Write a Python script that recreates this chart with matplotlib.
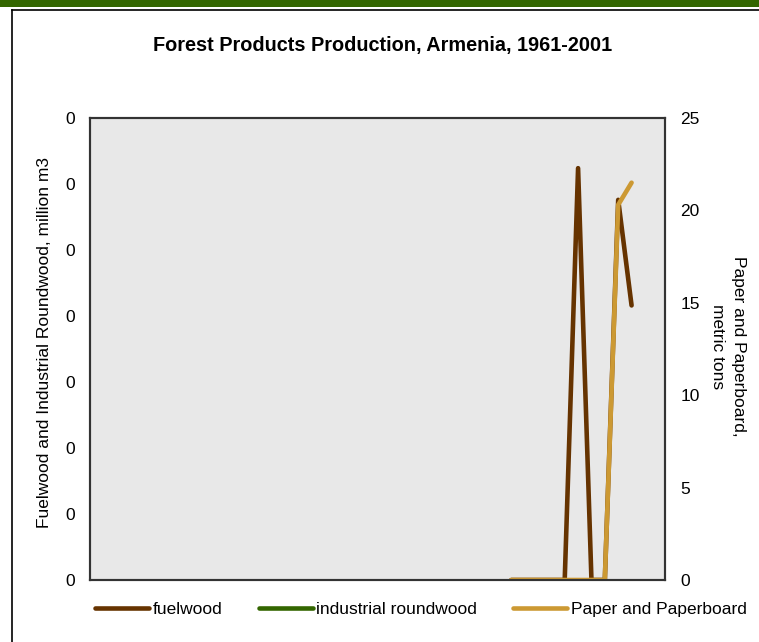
import matplotlib
matplotlib.use("Agg")
import matplotlib.pyplot as plt
from matplotlib.patches import Rectangle
from matplotlib.ticker import MultipleLocator, FormatStrFormatter
import numpy as np

plt.rcParams['font.family'] = ['Liberation Sans', 'DejaVu Sans']

# Category axis: years 1961-2003
categories = list(range(1961, 2004))
# Data years available
data_years = [1992, 1993, 1994, 1995, 1996, 1997, 1998, 1999, 2000, 2001]
fuelwood = [0, 0, 0, 0, 0, 0.00312, 0, 0, 0.00288, 0.00208]          # million m3
industrial_roundwood = [None] * 10                                     # million m3 (no data)
paper = [0, 0, 0, 0, 0, 0, 0, 0, 20.3, 21.5]                          # metric tons

x = [categories.index(y) for y in data_years]
ind_vals = [np.nan if v is None else v for v in industrial_roundwood]

W, H = 759, 642
fig = plt.figure(figsize=(W / 100, H / 100), dpi=100)

# top green bar and frame
fig.patches.append(Rectangle((0, 1 - 7 / H), 1, 7 / H, transform=fig.transFigure,
                             facecolor='#336600', edgecolor='none'))
fig.lines.append(plt.Line2D([12 / W, 12 / W], [0, 1 - 10 / H], transform=fig.transFigure,
                            color='black', lw=1.2))
fig.lines.append(plt.Line2D([12 / W, 1], [1 - 10 / H, 1 - 10 / H], transform=fig.transFigure,
                            color='black', lw=1.2))

ax = fig.add_axes([90 / W, (H - 580) / H, 575 / W, 462 / H])
ax.set_facecolor('#E8E8E8')
ax2 = ax.twinx()

c_fuel = '#663300'
c_ind = '#336600'
c_paper = '#CC9933'

lw = 3.3
l1, = ax.plot(x, fuelwood, color=c_fuel, lw=lw, solid_capstyle='round', solid_joinstyle='round',
              label='fuelwood')
l2, = ax.plot(x, ind_vals, color=c_ind, lw=lw, solid_capstyle='round',
              solid_joinstyle='round', label='industrial roundwood', zorder=1)
l3, = ax2.plot(x, paper, color=c_paper, lw=lw, solid_capstyle='round', solid_joinstyle='round',
               label='Paper and Paperboard')

ax.set_xlim(-0.5, len(categories) - 0.5)
ax.set_ylim(0, 0.0035)
ax.yaxis.set_major_locator(MultipleLocator(0.0005))
ax.yaxis.set_major_formatter(FormatStrFormatter('%.0f'))
ax2.set_ylim(0, 25)
ax2.yaxis.set_major_locator(MultipleLocator(5))

ax.set_xticks([])
for a in (ax, ax2):
    a.tick_params(axis='y', length=0, labelsize=12.5, pad=11)
    for s in a.spines.values():
        s.set_color('#333333')
        s.set_linewidth(1.5)

ax.set_ylabel('Fuelwood and Industrial Roundwood, million m3', fontsize=12.5)
ax.yaxis.set_label_coords((52 - 90) / 575, 0.515)
ax2.set_ylabel('Paper and Paperboard,\nmetric tons', fontsize=12.5, rotation=-90,
               linespacing=1.45, va='center', ha='center')
ax2.yaxis.set_label_coords((728 - 90) / 575, 0.505)

fig.text(383 / W, 1 - 45 / H, 'Forest Products Production, Armenia, 1961-2001',
         ha='center', va='center', fontsize=14.3, fontweight='bold')

fig.legend(handles=[l1, l2, l3], loc='center', bbox_to_anchor=(421 / W, 33 / H), ncol=3,
           frameon=False, fontsize=12.5, handlelength=3.1, handletextpad=0.2,
           columnspacing=2.1)

fig.savefig('out.png', dpi=100)
